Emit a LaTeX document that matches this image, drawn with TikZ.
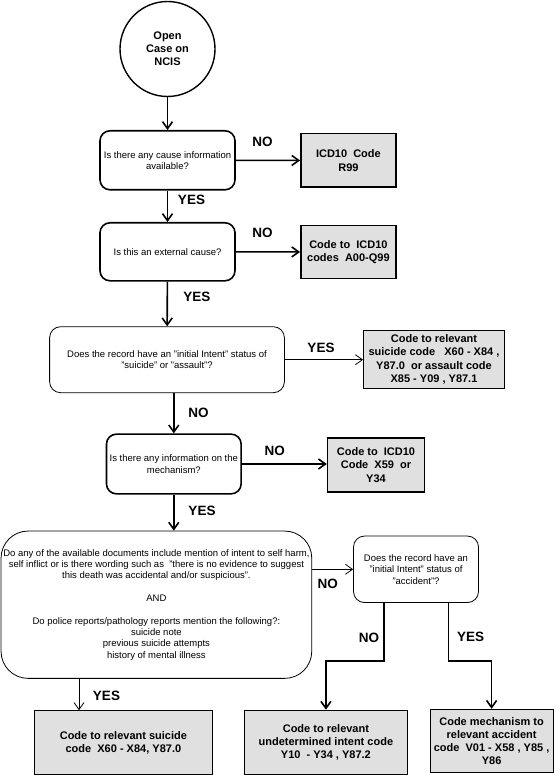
\documentclass[tikz,border=0pt]{standalone}
\usepackage{fontspec}
\setmainfont{Liberation Sans}
\usetikzlibrary{arrows.meta,calc}
\definecolor{boxgray}{HTML}{E0E0E0}
\begin{document}
\begin{tikzpicture}[x=1pt,y=-1pt,
  qtext/.style={font=\fontsize{9.5}{11.3}\selectfont, align=center, inner sep=0pt},
  qthick/.style={qtext, draw, line width=1.6pt, rounded corners=10pt},
  qthin/.style={qtext, draw, line width=0.8pt},
  codebox/.style={draw, fill=boxgray, align=center, inner sep=0pt, font=\bfseries\fontsize{11}{13.2}\selectfont},
  lbl/.style={font=\bfseries\fontsize{13.5}{14}\selectfont, inner sep=0pt},
  thickarrow/.style={line width=1.6pt, -{Straight Barb[length=7pt,width=10pt]}},
  thinarrow/.style={line width=0.8pt, -{Straight Barb[length=7pt,width=10pt]}},
]
\useasboundingbox (0,0) rectangle (556,775);
\fill[white] (0,0) rectangle (556,775);

% nodes
\node[draw, circle, line width=1.4pt, minimum size=95pt, inner sep=0pt, align=center,
      font=\bfseries\fontsize{11}{13}\selectfont] (c) at (167.5,49) {Open\\Case on\\NCIS};

\node[qthick, minimum width=135pt, minimum height=59pt] (q1) at (167.5,160.3)
  {Is there any cause information\\available?};
\node[codebox, line width=1.6pt, minimum width=95pt, minimum height=53.6pt] (b1) at (348.4,160.5)
  {ICD10~~Code\\R99};

\node[qthick, minimum width=135pt, minimum height=58pt] (q2) at (167.5,251.8)
  {Is this an external cause?};
\node[codebox, line width=1.6pt, minimum width=95pt, minimum height=52.6pt] (b2) at (348.4,252)
  {Code to~~ICD10\\codes~~A00-Q99};

\node[qthin, rounded corners=11pt, minimum width=234.8pt, minimum height=66pt] (q3) at (167,359.7)
  {Does the record have an "initial Intent" status of\\"suicide" or "assault"?};
\node[codebox, line width=1pt, minimum width=140.8pt, minimum height=58pt] (b3) at (434,359.3)
  {Code to relevant\\suicide code~~~X60 - X84 ,\\Y87.0~~or assault code\\X85 - Y09 , Y87.1};

\node[qthick, minimum width=134.7pt, minimum height=59.7pt] (q4) at (173.8,464)
  {Is there any information on the\\mechanism?};
\node[codebox, line width=1.6pt, minimum width=96.8pt, minimum height=53.7pt] (b4) at (376,465)
  {Code to~~ICD10\\Code~~X59~~or\\Y34};

\node[qthin, rounded corners=27pt, minimum width=310.7pt, minimum height=147.3pt] (q5) at (156.4,604.7)
  {Do any of the available documents include mention of intent to self harm,\\
   self inflict or is there wording such as~~"there is no evidence to suggest\\
   this death was accidental and/or suspicious".\\[11.3pt]
   AND\\[11.3pt]
   Do police reports/pathology reports mention the following?:\\
   suicide note\\
   previous suicide attempts\\
   history of mental illness};

\node[qthin, rounded corners=11pt, minimum width=125pt, minimum height=66.5pt] (q6) at (416,569.3)
  {Does the record have an\\"initial Intent" status of\\"accident"?};

\node[codebox, line width=1pt, minimum width=177.2pt, minimum height=63.6pt] (b5) at (123.4,742.5)
  {Code to relevant suicide\\code~~X60 - X84, Y87.0};
\node[codebox, line width=1pt, minimum width=162.4pt, minimum height=64pt] (b6) at (325.9,742.2)
  {Code to relevant\\undetermined intent code\\Y10~~- Y34 , Y87.2};
\node[codebox, line width=1pt, minimum width=123pt, minimum height=63.4pt] (b7) at (491.6,741)
  {Code mechanism to\\relevant accident\\code~~V01 - X58 , Y85 ,\\Y86};

% labels
\node[lbl] (n1) at (262.4,142.3) {NO};
\node[lbl] (y1) at (191.5,200) {YES};
\node[lbl] (n2) at (262.4,233.3) {NO};
\node[lbl] (y2) at (196.8,297.3) {YES};
\node[lbl] (y3) at (321,347.7) {YES};
\node[lbl] (n3) at (198.6,413.3) {NO};
\node[lbl] (n4) at (274.8,451) {NO};
\node[lbl] (y4) at (202,511) {YES};
\node[lbl] (n5) at (327.7,584) {NO};
\node[lbl] (y5) at (106.5,695.5) {YES};
\node[lbl] (n6) at (369,638) {NO};
\node[lbl] (y6) at (470.5,636.7) {YES};

% connectors
\draw[thickarrow] (c) -- (q1);
\draw[thickarrow] (q1) -- (b1);
\draw[thickarrow] (q1) -- (q2);
\draw[thickarrow] (q2) -- (b2);
\draw[thickarrow] (q2) -- (q3);
\draw[thinarrow] (q3.east) -- (b3.west |- q3.east);
\draw[thickarrow] (q3.south -| q4.north) -- (q4.north);
\draw[thickarrow] (q4.east) -- (q4.east -| b4.west);
\draw[thickarrow] (q4.south) -- (q4.south |- q5.north);
\draw[thinarrow] (q5.east |- q6.west) -- (q6.west);
\coordinate (k5) at (79,0);
\draw[thinarrow] (q5.south -| k5) -- (b5.north -| k5);
\coordinate (kl) at (384,660.7);
\coordinate (kr) at (448.6,660.7);
\draw[thickarrow] (q6.south -| kl) -- (kl) -- (kl -| b6.north) -- (b6.north);
\draw[thickarrow] (q6.south -| kr) -- (kr) -- (kr -| b7.north) -- (b7.north);
\end{tikzpicture}
\end{document}
